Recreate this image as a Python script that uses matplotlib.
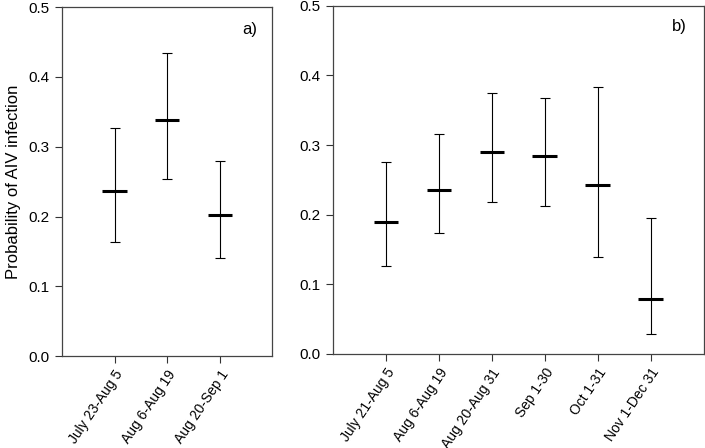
import matplotlib
matplotlib.use("Agg")
import matplotlib.pyplot as plt
import numpy as np

plt.rcParams['font.family'] = ['Liberation Sans', 'DejaVu Sans']

# panel a
labels_a = ["July 23-Aug 5", "Aug 6-Aug 19", "Aug 20-Sep 1"]
mean_a = [0.236, 0.339, 0.202]
low_a = [0.164, 0.254, 0.140]
high_a = [0.327, 0.434, 0.280]

# panel b
labels_b = ["July 21-Aug 5", "Aug 6-Aug 19", "Aug 20-Aug 31",
            "Sep 1-30", "Oct 1-31", "Nov 1-Dec 31"]
mean_b = [0.190, 0.236, 0.290, 0.284, 0.242, 0.079]
low_b = [0.126, 0.173, 0.218, 0.213, 0.139, 0.028]
high_b = [0.276, 0.316, 0.375, 0.368, 0.383, 0.195]


def draw_panel(ax, labels, mean, low, high, tag, tag_pos):
    x = np.arange(1, len(labels) + 1)
    mean = np.array(mean)
    yerr = [mean - np.array(low), np.array(high) - mean]
    ax.errorbar(x, mean, yerr=yerr, fmt='none', ecolor='black',
                elinewidth=0.8, capsize=3.6, capthick=0.8)
    ax.hlines(mean, x - 0.23, x + 0.23, color='black', lw=2.2)
    ax.set_xlim(0, len(labels) + 1)
    ax.set_ylim(0, 0.5)
    ax.set_yticks([0.0, 0.1, 0.2, 0.3, 0.4, 0.5])
    ax.set_yticklabels(["0.0", "0.1", "0.2", "0.3", "0.4", "0.5"])
    ax.set_xticks(x)
    ax.set_xticklabels(labels, rotation=56, ha='right', rotation_mode='anchor',
                       fontsize=10)
    ax.tick_params(axis='y', labelsize=11, pad=4)
    ax.tick_params(direction='out', length=5, width=0.8, color='#333333')
    for s in ax.spines.values():
        s.set_color('#444444')
        s.set_linewidth(0.9)
    ax.text(tag_pos[0], tag_pos[1], tag, transform=ax.transAxes, ha='right',
            va='center', fontsize=12)


fig = plt.figure(figsize=(7.05, 4.48), dpi=100)
ax_a = fig.add_axes([0.088, 0.205, 0.298, 0.779])
ax_b = fig.add_axes([0.472, 0.21, 0.526, 0.777])

draw_panel(ax_a, labels_a, mean_a, low_a, high_a, "a)", (0.93, 0.937))
draw_panel(ax_b, labels_b, mean_b, low_b, high_b, "b)", (0.955, 0.94))

ax_a.set_ylabel("Probability of AIV infection", fontsize=12, labelpad=5)

fig.savefig("out.png", dpi=100)
